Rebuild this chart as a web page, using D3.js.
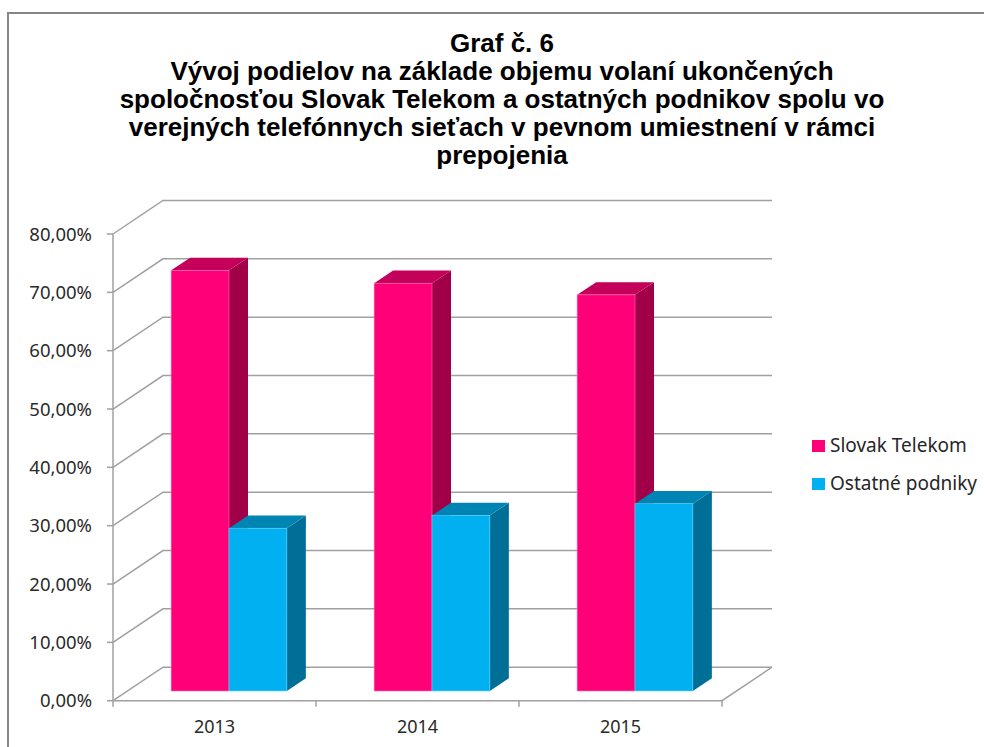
<!DOCTYPE html>
<html>
<head>
<meta charset="utf-8">
<script src="https://cdn.jsdelivr.net/npm/d3@7"></script>
<style>
  body { margin: 0; background: #fff; }
  svg { display: block; }
</style>
</head>
<body>
<script>
// data
const years = ['2013', '2014', '2015'];
const seriesNames = ['Slovak Telekom', 'Ostatné podniky'];
const slovakTelekom = [72.1, 69.9, 67.9];
const ostatnePodniky = [27.9, 30.1, 32.1];
const yTicks = [0, 10, 20, 30, 40, 50, 60, 70, 80];
const titleLines = [
    'Graf č. 6',
    'Vývoj podielov na základe objemu volaní ukončených',
    'spoločnosťou Slovak Telekom a ostatných podnikov spolu vo',
    'verejných telefónnych sieťach v pevnom umiestnení v rámci',
    'prepojenia'
];

const W = 984, H = 747;

// colours per series: front, top, side
const colors = [
    {front: '#ff0078', top: '#c3005a', side: '#a10049', edge: '#ff66b0'},
    {front: '#00b0f0', top: '#0084b4', side: '#006f98', edge: '#66d0f6'}
];

let svg = d3.select('body').append('svg')
    .attr('width', W)
    .attr('height', H);

svg.append('rect').attr('width', W).attr('height', H).attr('fill', '#fff');

// outer chart border (runs off the right and bottom)
svg.append('rect')
    .attr('x', 8).attr('y', 13)
    .attr('width', W + 20).attr('height', H + 20)
    .attr('fill', 'none')
    .attr('stroke', '#868686')
    .attr('stroke-width', 2);

// title
let title = svg.append('text')
    .attr('text-anchor', 'middle')
    .style('font-family', '"Liberation Sans", Arial, sans-serif')
    .style('font-weight', 'bold')
    .style('font-size', '26px')
    .attr('fill', '#000');
title.selectAll('tspan').data(titleLines).enter().append('tspan')
    .attr('x', 502)
    .attr('y', (d, i) => 52 + i * 28)
    .text(d => d);

// 3d frame: front plane + depth vector
let x0 = 113, x1 = 722;
let depth = {dx: 50, dy: -33.5};

let y = d3.scaleLinear().domain([0, 80]).range([700.7, 234]);
let x = d3.scaleBand().domain(years).range([x0, x1]).paddingInner(0.43).paddingOuter(0.215);
let xs = d3.scaleBand().domain(seriesNames).range([0, x.bandwidth()]);

function proj(px, v, d) {
    return [px + d * depth.dx, y(v) + d * depth.dy];
}

let grid = svg.append('g')
    .attr('stroke', '#a0a0a0')
    .attr('stroke-width', 1.5)
    .attr('fill', 'none');

// back wall gridlines + side wall diagonals
yTicks.forEach(t => {
    let a = proj(x0, t, 0), b = proj(x0, t, 1), c = proj(x1, t, 1);
    grid.append('path').attr('d', d3.line()([a, b, c]));
});

// floor front edge and right side
let f0 = proj(x0, 0, 0), f1 = proj(x1, 0, 0), f2 = proj(x1, 0, 1);
grid.append('path').attr('d', d3.line()([f0, f1, f2]));

// y axis line and ticks
grid.append('line')
    .attr('x1', x0).attr('x2', x0)
    .attr('y1', y(0)).attr('y2', y(80));
yTicks.forEach(t => {
    grid.append('line')
        .attr('x1', x0 - 6).attr('x2', x0)
        .attr('y1', y(t)).attr('y2', y(t));
});
// category ticks between the years
d3.range(years.length + 1).forEach(i => {
    let xx = x0 + i * x.step();
    grid.append('line')
        .attr('x1', xx).attr('x2', xx)
        .attr('y1', y(0)).attr('y2', y(0) + 6);
});

// y labels
let fmt = d3.format('.2f');
svg.append('g').selectAll('text').data(yTicks).enter().append('text')
    .attr('x', 92)
    .attr('y', d => y(d))
    .attr('dy', '0.36em')
    .attr('text-anchor', 'end')
    .style('font-family', '"Noto Sans", sans-serif')
    .style('font-size', '18.5px')
    .attr('fill', '#2a2a2a')
    .text(d => fmt(d).replace('.', ',') + '%');

// x labels
svg.append('g').selectAll('text').data(years).enter().append('text')
    .attr('x', d => x(d) + x.bandwidth() / 2)
    .attr('y', 733)
    .attr('text-anchor', 'middle')
    .style('font-family', '"Noto Sans", sans-serif')
    .style('font-size', '18px')
    .attr('fill', '#2a2a2a')
    .text(d => d);

// bars
let series = [slovakTelekom, ostatnePodniky];
let d0 = 0.29, d1 = 0.67;
let bars = [];
years.forEach((yr, i) => {
    seriesNames.forEach((s, j) => {
        bars.push({year: yr, s: j, v: series[j][i]});
    });
});

let barG = svg.append('g');
bars.forEach(b => {
    let c = colors[b.s];
    let left = x(b.year) + xs(seriesNames[b.s]);
    let right = left + xs.bandwidth();
    let g = barG.append('g');
    // side face
    g.append('path')
        .attr('d', d3.line()([proj(right, 0, d0), proj(right, 0, d1), proj(right, b.v, d1), proj(right, b.v, d0)]) + 'Z')
        .attr('fill', c.side);
    // top face
    g.append('path')
        .attr('d', d3.line()([proj(left, b.v, d0), proj(right, b.v, d0), proj(right, b.v, d1), proj(left, b.v, d1)]) + 'Z')
        .attr('fill', c.top);
    // front face
    let tl = proj(left, b.v, d0), br = proj(right, 0, d0);
    g.append('rect')
        .attr('x', tl[0]).attr('y', tl[1])
        .attr('width', br[0] - tl[0]).attr('height', br[1] - tl[1])
        .attr('fill', c.front)
        .attr('stroke', c.edge)
        .attr('stroke-width', 0.6);
});

// legend
let legend = svg.append('g');
seriesNames.forEach((s, i) => {
    let ly = 440 + i * 38;
    legend.append('rect')
        .attr('x', 812).attr('y', ly)
        .attr('width', 13).attr('height', 12)
        .attr('fill', colors[i].front);
    legend.append('text')
        .attr('x', 830).attr('y', ly + 12)
        .style('font-family', '"Noto Sans", sans-serif')
        .style('font-size', '19px')
        .attr('fill', '#262626')
        .text(s);
});
</script>
</body>
</html>
